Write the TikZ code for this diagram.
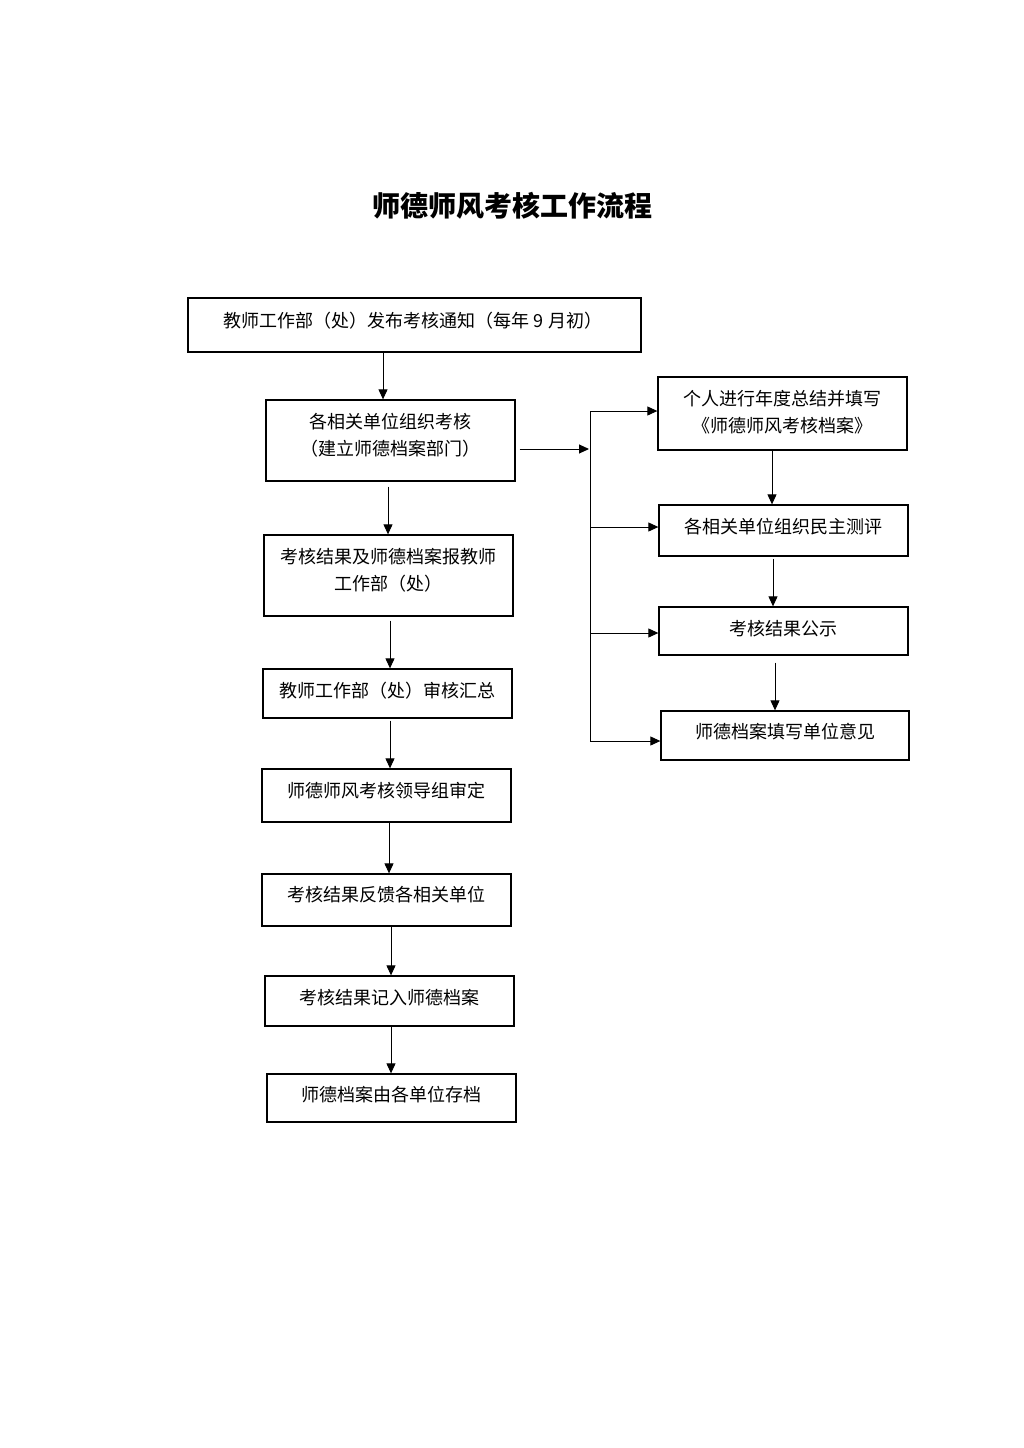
\documentclass[tikz,border=0pt]{standalone}
\usepackage{fontspec}
\newfontfamily\cjk{Noto Sans CJK SC}
\usetikzlibrary{arrows.meta,calc}
\begin{document}
\begin{tikzpicture}[x=1pt,y=-1pt,
  box/.style={draw, line width=1.3pt, inner sep=0pt},
  txt/.style={font=\cjk\fontsize{18}{27}\selectfont, align=center, inner sep=0pt, yshift=-2pt},
  ttl/.style={font=\cjk\bfseries\fontsize{28}{34}\selectfont, inner sep=0pt},
  arr/.style={-{Triangle[length=10pt,width=9pt]}, line width=1pt},
  ln/.style={line width=1pt}]
\useasboundingbox[fill=white] (0,0) rectangle (1024,1448);

\node[ttl] (title) at (512,206) {师德师风考核工作流程};

% left column boxes
\node[box, minimum width=453pt, minimum height=54pt] (b1) at (414.5,325) {};
\node[box, minimum width=249pt, minimum height=81pt] (b2) at (390.5,440.5) {};
\node[box, minimum width=249pt, minimum height=81pt] (b3) at (388.5,575.5) {};
\node[box, minimum width=249pt, minimum height=49pt] (b4) at (387.5,693.5) {};
\node[box, minimum width=249pt, minimum height=53pt] (b5) at (386.5,795.5) {};
\node[box, minimum width=249pt, minimum height=52pt] (b6) at (386.5,900) {};
\node[box, minimum width=249pt, minimum height=50pt] (b7) at (389.5,1001) {};
\node[box, minimum width=249pt, minimum height=48pt] (b8) at (391.5,1098) {};

\node[txt] (t1) at (413,319) {教师工作部（处）发布考核通知（每年 9 月初）};
\node[txt] (t2) at (390.5,433.5) {各相关单位组织考核\\（建立师德档案部门）};
\node[txt] (t3) at (388.5,568.5) {考核结果及师德档案报教师\\工作部（处）};
\node[txt] (t4) at (387.5,689) {教师工作部（处）审核汇总};
\node[txt] (t5) at (386.5,789) {师德师风考核领导组审定};
\node[txt] (t6) at (386.5,893) {考核结果反馈各相关单位};
\node[txt] (t7) at (389.5,996) {考核结果记入师德档案};
\node[txt] (t8) at (391.5,1093) {师德档案由各单位存档};

% right column boxes
\node[box, minimum width=249pt, minimum height=73pt] (r1) at (782.5,413.5) {};
\node[box, minimum width=249pt, minimum height=51pt] (r2) at (783.5,530.5) {};
\node[box, minimum width=249pt, minimum height=48pt] (r3) at (783.5,631) {};
\node[box, minimum width=248pt, minimum height=49pt] (r4) at (785,735.5) {};

\node[txt] (s1) at (782.5,410.5) {个人进行年度总结并填写\\《师德师风考核档案》};
\node[txt] (s2) at (783.5,525) {各相关单位组织民主测评};
\node[txt] (s3) at (783.5,627) {考核结果公示};
\node[txt] (s4) at (785,730) {师德档案填写单位意见};

% x positions for vertical arrows
\coordinate (xa) at (383,0);
\coordinate (xb) at (388,0);
\coordinate (xc) at (390,0);
\coordinate (xd) at (389,0);
\coordinate (xe) at (391,0);
\coordinate (xr1) at (772,0);
\coordinate (xr2) at (773,0);
\coordinate (xr3) at (775,0);

\draw[arr] (b1.south -| xa) -- (b2.north -| xa);
\draw[arr] ([yshift=-5pt]b2.south -| xb) -- (b3.north -| xb);
\draw[arr] ([yshift=-4pt]b3.south -| xc) -- (b4.north -| xc);
\draw[arr] ([yshift=-2pt]b4.south -| xc) -- (b5.north -| xc);
\draw[arr] (b5.south -| xd) -- (b6.north -| xd);
\draw[arr] (b6.south -| xe) -- (b7.north -| xe);
\draw[arr] (b7.south -| xe) -- (b8.north -| xe);

\draw[arr] (r1.south -| xr1) -- (r2.north -| xr1);
\draw[arr] ([yshift=-2pt]r2.south -| xr2) -- (r3.north -| xr2);
\draw[arr] ([yshift=-7pt]r3.south -| xr3) -- (r4.north -| xr3);

% branch connector
\coordinate (j) at (590,449);
\coordinate (top) at (590,411);
\coordinate (m2) at (590,527);
\coordinate (m3) at (590,633);
\coordinate (bot) at (590,741);
\draw[arr] ($(b2.east |- j)+(4,0)$) -- ($(j)+(-1,0)$);
\draw[ln] (top) -- (bot);
\draw[arr] (top) -- (top -| r1.west);
\draw[arr] (m2) -- (m2 -| r2.west);
\draw[arr] (m3) -- (m3 -| r3.west);
\draw[arr] (bot) -- (bot -| r4.west);
\end{tikzpicture}
\end{document}
